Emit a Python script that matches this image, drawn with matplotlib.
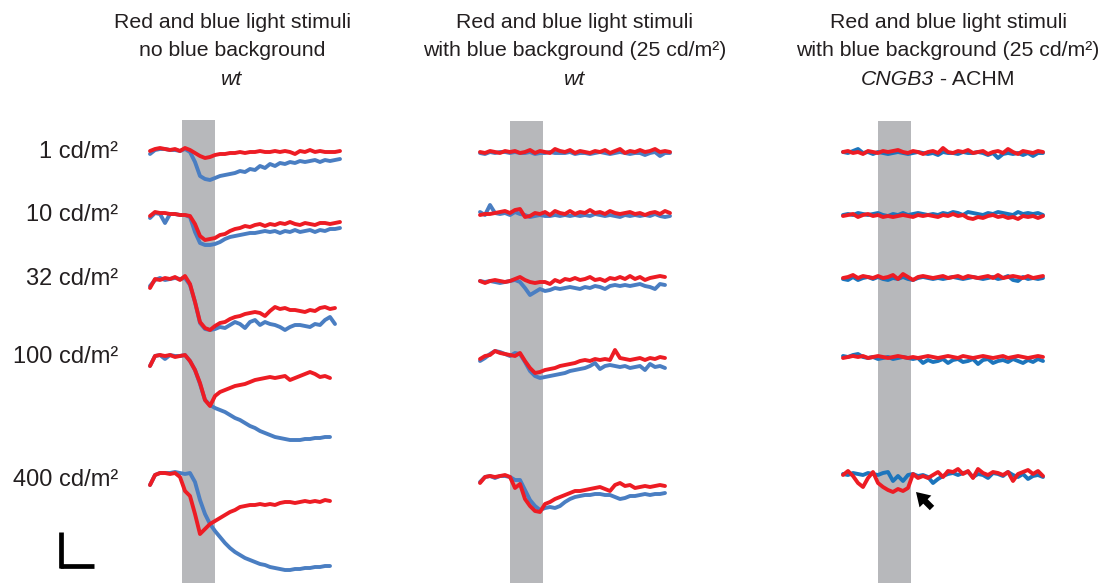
import numpy as np
import matplotlib
matplotlib.use("Agg")
import matplotlib.pyplot as plt

plt.rcParams['font.family'] = ['Liberation Sans', 'DejaVu Sans']

# ---------------- data ----------------
dt = 5                      # ms between samples
stim_on, stim_off = 0, 33   # ms, stimulus window
trace_start = [-32, -30, -35]   # ms, first sample of each column

intensity_labels = ["1 cd/m²", "10 cd/m²", "32 cd/m²", "100 cd/m²", "400 cd/m²"]
title_line1 = ["Red and blue light stimuli"] * 3
title_line2 = ["no blue background", "with blue background (25 cd/m²)",
               "with blue background (25 cd/m²)"]
title_line3_italic = ["wt", "wt", "CNGB3"]
title_line3_plain = ["", "", " - ACHM"]

# amplitudes (µV, up = positive), column 1: wt, no blue background
c1_red_1 = [-1,1,2,1,0,1,-1,2,0,-3,-6,-8,-7,-5,-4,-4,-3,-3,-2,-3,-2,-2,-1,-2,-2,-1,-2,-1,-2,-4,-1,-2,0,-2,-1,-2,-2,-2,-1]
c1_blue_1 = [-4,0,1,1,0,0,-1,1,-2,-12,-26,-29,-30,-28,-26,-25,-24,-23,-21,-22,-19,-20,-16,-18,-14,-16,-13,-14,-12,-13,-11,-12,-11,-10,-12,-10,-11,-10,-9]
c1_red_2 = [-2,2,1,1,0,0,-1,-1,-2,-10,-22,-26,-25,-24,-21,-20,-17,-15,-14,-12,-13,-11,-10,-12,-10,-11,-9,-10,-8,-10,-11,-9,-10,-11,-9,-9,-10,-9,-8]
c1_blue_2 = [-4,1,0,-9,0,0,-1,-1,-3,-18,-29,-31,-31,-30,-28,-25,-23,-22,-21,-20,-19,-19,-18,-17,-18,-17,-19,-17,-18,-16,-18,-17,-16,-18,-16,-17,-15,-15,-14]
c1_red_3 = [-8,1,0,2,1,3,0,4,-4,-22,-42,-48,-50,-46,-43,-42,-39,-37,-36,-34,-33,-32,-33,-36,-31,-27,-29,-28,-30,-30,-31,-32,-30,-31,-28,-27,-29,-28]
c1_blue_3 = [-6,0,2,0,1,2,1,2,-5,-22,-43,-49,-50,-49,-47,-48,-45,-42,-44,-48,-42,-40,-45,-42,-44,-45,-47,-50,-47,-45,-45,-46,-47,-44,-45,-40,-37,-44]
c1_red_4 = [-10,0,1,0,1,-1,0,1,-5,-14,-27,-44,-50,-40,-36,-34,-32,-30,-29,-28,-26,-24,-23,-22,-21,-22,-21,-20,-24,-22,-20,-18,-16,-18,-21,-20,-22]
c1_blue_4 = [-10,0,1,-3,1,0,0,1,-5,-14,-28,-44,-49,-52,-54,-56,-59,-62,-64,-67,-70,-72,-75,-77,-79,-81,-82,-83,-84,-84,-84,-83,-83,-82,-82,-81,-81]
c1_red_5 = [-11,-1,1,1,0,1,-3,-17,-22,-40,-60,-55,-50,-47,-44,-41,-38,-36,-33,-32,-31,-31,-30,-31,-30,-31,-29,-28,-28,-29,-28,-27,-28,-27,-28,-26,-27]
c1_blue_5 = [-11,-1,1,1,1,2,1,0,1,-8,-26,-40,-50,-57,-63,-69,-74,-78,-81,-84,-86,-88,-90,-91,-93,-94,-95,-96,-96,-95,-95,-94,-94,-93,-93,-92,-92]

# column 2: wt, with blue background
c2_red_1 = [0,-1,1,0,-1,1,0,1,-1,0,2,-1,1,0,-1,3,1,0,2,-1,1,0,-1,1,0,2,-1,1,3,-1,1,0,2,0,1,3,0,1,0]
c2_blue_1 = [-1,-2,0,-1,0,0,-1,0,-1,-1,0,-2,-1,-1,0,-1,-1,-1,0,-2,-1,-1,-2,-1,0,-1,-2,-1,0,-1,-2,-1,-1,-3,-1,0,-4,-1,-1]
c2_red_2 = [-2,-1,-1,0,1,2,0,3,4,-4,-3,0,-1,1,-2,2,0,-1,2,-1,1,0,3,0,1,-1,2,0,-1,0,1,-1,0,-2,0,1,-1,2,0]
c2_blue_2 = [1,-2,8,0,-1,0,-2,1,-1,-2,-4,-3,-2,-3,-3,-2,-3,-2,-3,-2,-3,-2,-3,-1,-2,-3,-2,-3,-4,-2,-3,-2,-3,-2,-3,-1,-3,-4,-3]
c2_red_3 = [-1,-3,-1,0,-1,-2,-1,1,3,0,-2,-3,-2,-2,-4,0,-2,1,0,2,0,1,3,0,1,-1,2,1,3,1,4,1,3,0,2,3,4,3]
c2_blue_3 = [-1,-2,-1,-2,-3,-2,-1,0,-2,-8,-15,-12,-9,-11,-10,-8,-9,-8,-7,-8,-9,-7,-8,-6,-7,-9,-6,-5,-6,-5,-6,-5,-4,-6,-7,-9,-4,-5]
c2_red_4 = [-3,0,1,5,3,2,1,0,3,-5,-12,-17,-16,-14,-13,-12,-10,-9,-8,-7,-5,-4,-5,-3,-4,-3,-4,6,-2,-3,-4,-3,-2,-4,-2,-3,-1,-2]
c2_blue_4 = [-5,-2,2,5,4,2,0,3,2,-6,-15,-20,-22,-21,-20,-19,-18,-17,-15,-14,-13,-12,-10,-7,-13,-10,-9,-10,-11,-10,-12,-11,-10,-14,-8,-11,-10,-12]
c2_red_5 = [-5,1,2,1,2,3,1,-10,-6,-21,-28,-33,-34,-26,-24,-21,-19,-17,-15,-13,-13,-12,-11,-10,-9,-11,-13,-7,-5,-8,-7,-10,-9,-8,-9,-8,-7,-8]
c2_blue_5 = [-4,1,2,0,2,2,1,-2,-2,-12,-22,-28,-32,-30,-29,-30,-28,-24,-21,-19,-18,-17,-17,-16,-16,-17,-17,-19,-21,-20,-18,-18,-17,-16,-17,-16,-16,-15]

# column 3: CNGB3 - ACHM, with blue background
c3_red_1 = [0,1,-1,0,-2,1,0,-1,1,0,1,2,0,-1,1,0,-2,0,1,-1,4,0,-1,1,0,2,-1,0,1,-2,0,1,-1,3,0,-2,1,0,-1,1,0]
c3_blue_1 = [0,-1,1,3,-1,0,-2,0,-1,-2,-1,0,-1,-2,-1,0,-1,-2,-1,-3,0,-1,-1,-2,0,-1,-1,0,-1,-3,-1,-6,-2,-1,-2,-1,-3,-1,-4,-1,-1]
c3_red_2 = [-1,0,1,-2,0,1,-1,0,-2,-1,-2,-1,0,-1,-2,0,-1,0,-1,-2,0,-1,1,-1,0,-3,-4,-2,-3,-1,0,-2,-1,-3,-2,-4,-1,-2,-1,-3,-1]
c3_blue_2 = [0,1,0,2,1,0,1,2,0,-1,1,0,2,0,1,2,1,0,1,0,2,1,3,2,0,3,2,1,0,2,1,3,2,1,0,3,1,2,1,2,0]
c3_red_3 = [-1,0,2,-1,1,0,-1,1,-1,0,2,-2,3,0,-3,0,1,0,-1,0,1,-1,0,1,-1,1,0,-1,0,1,-1,2,-1,0,1,0,-1,1,-1,0,1]
c3_blue_3 = [-2,-3,0,-3,-1,0,-2,0,-2,-3,-1,-2,0,-2,-3,-1,0,-1,-2,-1,-2,-1,0,-1,-2,-1,0,-1,-2,-1,0,-2,-1,1,-3,-4,0,-2,-1,-2,-1]
c3_red_4 = [-1,0,1,0,1,-1,0,1,0,-1,0,1,0,-1,0,-1,0,1,0,-1,0,1,0,-1,1,0,-1,0,1,0,-1,0,1,-1,0,1,0,-1,0,1,0]
c3_blue_4 = [1,0,2,3,0,-1,0,-2,-1,0,-2,-1,0,-1,-2,-1,-6,-3,-5,-4,-2,-6,-3,-2,-5,-4,-2,-7,-3,-2,-6,-4,-3,-5,-2,-4,-6,-3,-5,-2,-4]
c3_red_5 = [0,4,-1,-8,-12,-3,3,-8,-12,-15,-17,-14,-16,-13,1,-3,-1,-3,0,3,-2,4,3,6,1,4,-3,6,2,0,3,2,0,3,-6,1,3,5,1,4,-1]
c3_blue_5 = [1,0,2,1,0,2,1,0,2,3,-6,-1,-6,0,1,-1,0,-2,-8,-4,-1,1,2,0,2,3,-2,1,0,-3,2,1,-1,3,0,-2,1,-4,-1,0,-2]

# ---------------- layout / style ----------------
W, H = 1120, 583
row_offset = [[150, 214, 280, 356, 474],
              [152, 213, 280, 356, 478],
              [152, 215, 277, 357, 475]]
col_px = [(40, 370), (460, 700), (830, 1070)]
stim_px = [182, 510, 878]
bar_top = [120, 121, 121]
red = '#ED1C24'
blues = ['#4A7EC2', '#4A7EC2', '#1C75BC']
grey = '#B7B8BB'
txt = '#231F20'

reds = [[c1_red_1, c1_red_2, c1_red_3, c1_red_4, c1_red_5],
        [c2_red_1, c2_red_2, c2_red_3, c2_red_4, c2_red_5],
        [c3_red_1, c3_red_2, c3_red_3, c3_red_4, c3_red_5]]
blus = [[c1_blue_1, c1_blue_2, c1_blue_3, c1_blue_4, c1_blue_5],
        [c2_blue_1, c2_blue_2, c2_blue_3, c2_blue_4, c2_blue_5],
        [c3_blue_1, c3_blue_2, c3_blue_3, c3_blue_4, c3_blue_5]]

fig = plt.figure(figsize=(W / 100, H / 100), dpi=100)
axes = []
for c in range(3):
    L, R = col_px[c]
    ax = fig.add_axes([L / W, 0, (R - L) / W, 1])
    ax.set_xlim(L - stim_px[c], R - stim_px[c])
    ax.set_ylim(-H, 0)
    ax.axis('off')
    ax.axvspan(stim_on, stim_off, ymin=0, ymax=1 - bar_top[c] / H,
               color=grey, lw=0, zorder=0)
    for r in range(5):
        for vals, col, z in ((blus[c][r], blues[c], 2), (reds[c][r], red, 3)):
            v = np.asarray(vals, dtype=float)
            t = trace_start[c] + dt * np.arange(len(v))
            ax.plot(t, v - row_offset[c][r], color=col, lw=2.8,
                    solid_joinstyle='round', solid_capstyle='round', zorder=z)
    axes.append(ax)

# scale bar (column 1 axes): 33 ms x 34 µV
sb_ms, sb_uv = 33, 34
sb_t, sb_y = -121, -566
axes[0].plot([sb_t - 1, sb_t + sb_ms], [sb_y, sb_y], color='black', lw=3.4,
             solid_capstyle='butt')
axes[0].plot([sb_t, sb_t], [sb_y - 1.5, sb_y + sb_uv], color='black', lw=3.4,
             solid_capstyle='butt')

# arrow in ACHM 400 cd/m² panel
axes[2].annotate('', xy=(38, -492), xytext=(54, -508),
                 arrowprops=dict(arrowstyle='simple,head_length=0.6,head_width=0.75,tail_width=0.28',
                                 color='black', lw=0, mutation_scale=16,
                                 shrinkA=0, shrinkB=0))

# titles
title_cx = [232, 575, 948]
title_y = [22, 51, 80]
for c in range(3):
    fig.text(title_cx[c] / W, 1 - title_y[0] / H, title_line1[c], ha='center',
             va='center', fontsize=15.3, color=txt)
    fig.text(title_cx[c] / W, 1 - title_y[1] / H, title_line2[c], ha='center',
             va='center', fontsize=15.3, color=txt)
    if title_line3_plain[c]:
        split = 934
        fig.text(split / W, 1 - title_y[2] / H, title_line3_italic[c], ha='right',
                 va='center', fontsize=15.3, color=txt, style='italic')
        fig.text(split / W, 1 - title_y[2] / H, title_line3_plain[c], ha='left',
                 va='center', fontsize=15.3, color=txt)
    else:
        fig.text(title_cx[c] / W, 1 - title_y[2] / H, title_line3_italic[c],
                 ha='center', va='center', fontsize=15.3, color=txt, style='italic')

# intensity labels
label_y = [152, 215, 279, 357, 480]
for lab, y in zip(intensity_labels, label_y):
    fig.text(118 / W, 1 - y / H, lab, ha='right', va='center',
             fontsize=17, color=txt)

fig.savefig('out.png', dpi=100)
